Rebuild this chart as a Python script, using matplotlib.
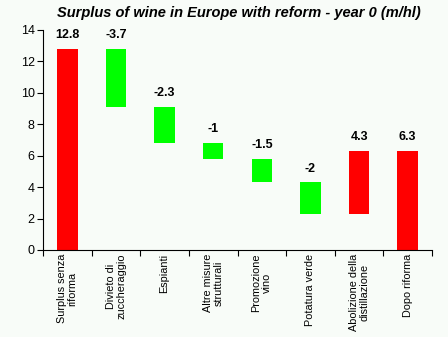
import matplotlib.pyplot as plt

plt.rcParams['font.family'] = ['Liberation Sans', 'DejaVu Sans']

categories = ["Surplus senza\nriforma", "Divieto di\nzuccheraggio", "Espianti",
              "Altre misure\nstrutturali", "Promozione\nvino", "Potatura verde",
              "Abolizione della\ndistillazione", "Dopo riforma"]
bar_bottoms = [0, 9.1, 6.8, 5.8, 4.3, 2.3, 2.3, 0]
bar_tops = [12.8, 12.8, 9.1, 6.8, 5.8, 4.3, 6.3, 6.3]
value_labels = ["12.8", "-3.7", "-2.3", "-1", "-1.5", "-2", "4.3", "6.3"]
bar_colors = ["#ff0000", "#00ff00", "#00ff00", "#00ff00", "#00ff00", "#00ff00",
              "#ff0000", "#ff0000"]

bg = "#f8fcf8"
fig = plt.figure(figsize=(4.48, 3.37), dpi=100, facecolor=bg)
ax = fig.add_axes([43 / 448, 1 - 250 / 337, (432 - 43) / 448, (250 - 30) / 337])
ax.set_facecolor(bg)

x = range(len(categories))
heights = [t - b for t, b in zip(bar_tops, bar_bottoms)]
ax.bar(x, heights, bottom=bar_bottoms, width=0.42, color=bar_colors)

for i, (top, lab) in enumerate(zip(bar_tops, value_labels)):
    ax.text(i, top + 0.5, lab, ha="center", va="bottom", fontsize=9,
            fontweight="bold")

ax.set_xlim(-0.5, len(categories) - 0.5)
ax.set_ylim(0, 14)
ax.set_yticks(range(0, 15, 2))
ax.tick_params(axis="y", labelsize=9, length=4, width=0.8, pad=2)

# category labels placed between boundary ticks
ax.set_xticks([i - 0.5 for i in range(len(categories) + 1)])
ax.set_xticklabels([])
ax.tick_params(axis="x", length=4, width=0.8)
for i, c in enumerate(categories):
    ax.text(i, -0.25, c, rotation=90, ha="center", va="top", fontsize=7.8,
            linespacing=1.1)

for s in ["top", "right"]:
    ax.spines[s].set_visible(False)
for s in ["left", "bottom"]:
    ax.spines[s].set_linewidth(0.8)

fig.text(0.534, 0.962, "Surplus of wine in Europe with reform - year 0 (m/hl)",
         ha="center", va="center", fontsize=10.5, fontweight="bold", style="italic")

fig.savefig("out.png", dpi=100, facecolor=bg)
